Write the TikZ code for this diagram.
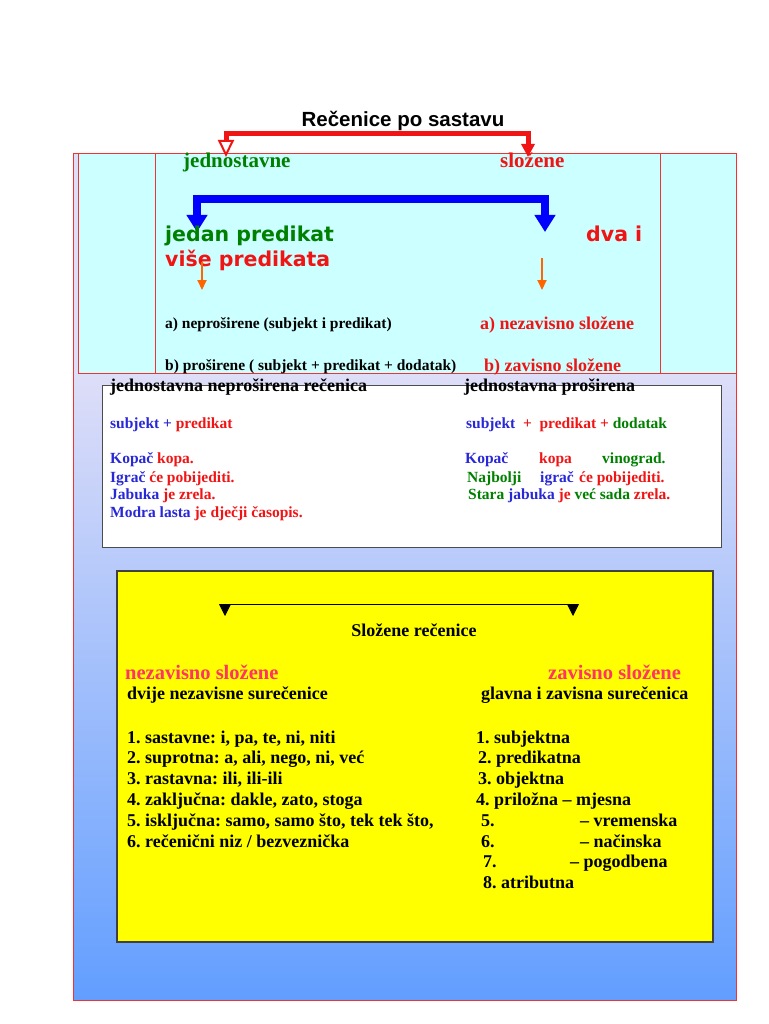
\documentclass[tikz,border=0pt]{standalone}
\usepackage{fontspec}
\setmainfont{Liberation Serif}
\newfontfamily\arialfont{Liberation Sans}
\newfontfamily\verdanafont{DejaVu Sans}
\usepackage{xcolor}
\usetikzlibrary{arrows.meta}
\definecolor{tgreen}{RGB}{0,128,0}
\definecolor{tred}{RGB}{240,20,20}
\definecolor{tblue}{RGB}{40,40,215}
\definecolor{tpink}{RGB}{255,51,102}
\definecolor{torange}{RGB}{255,102,0}
\definecolor{framered}{RGB}{240,50,50}
\definecolor{cyanbg}{RGB}{204,255,255}
\definecolor{gtop}{RGB}{222,222,248}
\definecolor{gbot}{RGB}{98,158,255}
\definecolor{boxyellow}{RGB}{255,255,0}
\frenchspacing

\begin{document}
\begin{tikzpicture}[x=1pt,y=-1pt,
  every node/.style={inner sep=0pt,anchor=base west},
  body/.style={font=\bfseries\fontsize{15.5}{18}\selectfont},
  head/.style={font=\bfseries\fontsize{18}{21}\selectfont},
  big/.style={font=\bfseries\fontsize{21}{24}\selectfont},
  wide/.style={font=\verdanafont\bfseries\fontsize{20.5}{24}\selectfont},
  frame/.style={draw=framered,line width=0.8pt}]
  \useasboundingbox[fill=white] (0,0) rectangle (768,1024);
  % background panels
  \shade[top color=gtop,bottom color=gbot] (73,373) rectangle (736,1000);
  \fill[gtop] (73,153) rectangle (78,373);
  \filldraw[frame,fill=cyanbg] (78,153) rectangle (736,373);
  \draw[frame] (155,153) rectangle (660,373);
  \draw[frame] (73,153) rectangle (736,1000);
  \filldraw[fill=white,draw=black!70,line width=1pt] (102,385) rectangle (721,547);
  \filldraw[fill=boxyellow,draw=black!75,line width=1.2pt] (117,571) rectangle (713,942);

  \node[anchor=base,font=\arialfont\bfseries\fontsize{20.5}{24}\selectfont] (title) at (403,127) {Rečenice po sastavu};
  \node[big,text=tgreen] (jedn) at (183,168) {jednostavne};
  \node[big,text=tred] (slozene) at (500,168) {složene};
  \coordinate (redL) at (226,157);
  \coordinate (redR) at (528,157);
  \draw[tred,line width=5pt,{Triangle[open,fill=white,line width=2pt,width=16pt,length=17pt]}-{Triangle[width=13pt,length=13pt]}]
    (redL) -- ++(0,-23) -| (redR);

  \coordinate (blueL) at (197,232);
  \coordinate (blueR) at (545,232);
  \draw[blue,line width=8pt,{Triangle[width=20pt,length=17pt]}-{Triangle[width=20pt,length=17pt]}]
    (blueL) -- ++(0,-33) -| (blueR);

  \node[wide,text=tgreen] (jedan) at (165,241) {jedan predikat};
  \node[wide,text=tred] (dva) at (586,241) {dva i};
  \node[wide,text=tred] (vise) at (165,266) {više predikata};

  \coordinate (orL) at (202,262);
  \coordinate (orR) at (542,258);
  \draw[torange,line width=2pt,-{Triangle[width=9pt,length=10pt]}] (orL) -- ++(0,28);
  \draw[torange,line width=2pt,-{Triangle[width=9pt,length=10pt]}] (orR) -- ++(0,32);

  \node[body] (apro) at (165,328) {a) neproširene (subjekt i predikat)};
  \node[head,text=tred] (anez) at (480,329) {a) nezavisno složene};
  \node[body] (bpro) at (165,370) {b) proširene ( subjekt + predikat + dodatak)};
  \node[head,text=tred] (bzav) at (484,371) {b) zavisno složene};

  % white box
  \node[head] (hneo) at (110,391) {jednostavna neproširena rečenica};
  \node[head] (hpro) at (464,391) {jednostavna proširena};
  \node[body] (sp) at (110,428) {\textcolor{tblue}{subjekt +} \textcolor{tred}{predikat}};
  \node[body] (spd) at (466,428) {\textcolor{tblue}{subjekt}\ \ \textcolor{tred}{+\ \ predikat +} \textcolor{tgreen}{dodatak}};
  \node[body] (ex1) at (110,463) {\textcolor{tblue}{Kopač} \textcolor{tred}{kopa.}};
  \node[body] (ex2) at (110,482) {\textcolor{tblue}{Igrač} \textcolor{tred}{će pobijediti.}};
  \node[body] (ex3) at (110,499) {\textcolor{tblue}{Jabuka} \textcolor{tred}{je zrela.}};
  \node[body] (ex4) at (110,517) {\textcolor{tblue}{Modra lasta} \textcolor{tred}{je dječji časopis.}};
  \node[body,text=tblue] (rk1) at (465,463) {Kopač};
  \node[body,text=tred] (rk2) at (539,463) {kopa};
  \node[body,text=tgreen] (rk3) at (602,463) {vinograd.};
  \node[body,text=tgreen] (rn1) at (467,482) {Najbolji};
  \node[body,text=tblue] (rn2) at (540,482) {igrač};
  \node[body,text=tred] (rn3) at (579,482) {će pobijediti.};
  \node[body] (rs) at (468,499) {\textcolor{tgreen}{Stara} \textcolor{tblue}{jabuka} \textcolor{tred}{je} \textcolor{tgreen}{već sada} \textcolor{tred}{zrela.}};

  % yellow box
  \coordinate (blkL) at (225,616);
  \coordinate (blkR) at (573,616);
  \draw[line width=0.8pt,{Triangle[width=12pt,length=12pt]}-{Triangle[width=12pt,length=12pt]}]
    (blkL) -- ++(0,-12) -| (blkR);
  \node[head,anchor=base] (slrec) at (414,636) {Složene rečenice};
  \node[font=\bfseries\fontsize{20.5}{24}\selectfont,text=tpink] (nez) at (125,679) {nezavisno složene};
  \node[font=\bfseries\fontsize{20.5}{24}\selectfont,text=tpink] (zav) at (548,679) {zavisno složene};
  \node[head] (dvije) at (127,699) {dvije nezavisne surečenice};
  \node[head] (glavna) at (481,699) {glavna i zavisna surečenica};
  \foreach \t [count=\i] in {{1. sastavne: i, pa, te, ni, niti},{2. suprotna: a, ali, nego, ni, već},
      {3. rastavna: ili, ili-ili},{4. zaključna: dakle, zato, stoga},
      {5. isključna: samo, samo što, tek tek što,},{6. rečenični niz / bezveznička}}
    \node[head] (nl\i) at (127,{743+20.8*(\i-1)}) {\t};
  \foreach \x/\t [count=\i] in {476/{1. subjektna},478/{2. predikatna},478/{3. objektna},
      476/{4. priložna -- mjesna},481/{\makebox[99pt][l]{5.}-- vremenska},
      481/{\makebox[99pt][l]{6.}-- načinska},483/{\makebox[87pt][l]{7.}-- pogodbena},483/{8. atributna}}
    \node[head] (zl\i) at (\x,{743+20.8*(\i-1)}) {\t};
\end{tikzpicture}
\end{document}
